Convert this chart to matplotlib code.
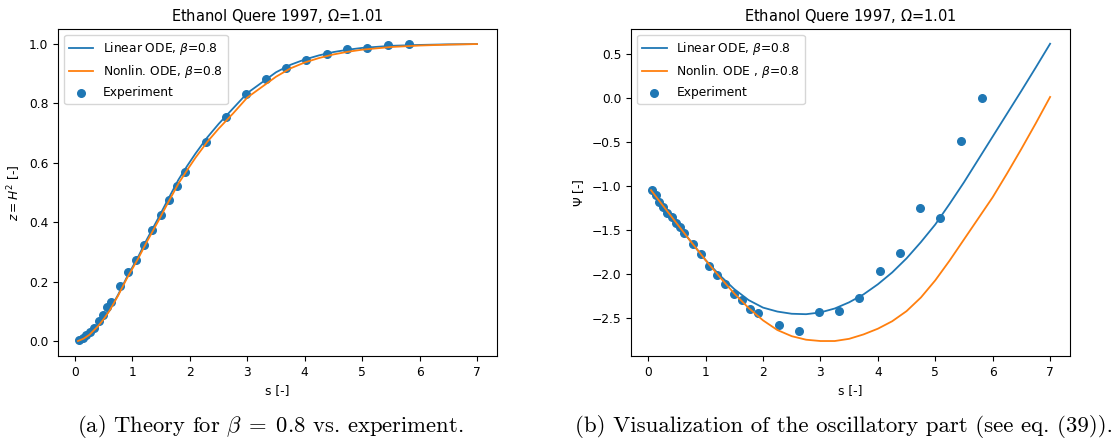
import numpy as np
import matplotlib
matplotlib.use("Agg")
import matplotlib.pyplot as plt

s_exp = [0.06, 0.13, 0.19, 0.26, 0.33, 0.41, 0.48, 0.55, 0.62, 0.78, 0.92, 1.06,
         1.20, 1.34, 1.49, 1.63, 1.78, 1.92, 2.28, 2.63, 2.98, 3.33, 3.68, 4.03,
         4.38, 4.74, 5.09, 5.45, 5.81]
z_exp = [0.002, 0.009, 0.019, 0.031, 0.045, 0.066, 0.087, 0.113, 0.130, 0.185,
         0.231, 0.274, 0.324, 0.374, 0.425, 0.476, 0.521, 0.569, 0.671, 0.755,
         0.833, 0.881, 0.918, 0.947, 0.967, 0.983, 0.986, 0.997, 1.001]
psi_exp = [-1.053, -1.11, -1.18, -1.24, -1.31, -1.36, -1.42, -1.47, -1.54, -1.66,
           -1.77, -1.91, -2.02, -2.12, -2.23, -2.30, -2.40, -2.45, -2.58, -2.65,
           -2.44, -2.42, -2.28, -1.97, -1.76, -1.25, -1.37, -0.49, 0.0]

# theory curves, left panel
s_z = [0.05, 0.15, 0.25, 0.4, 0.5, 0.6, 0.75, 0.9, 1.1, 1.25, 1.45, 1.6, 1.8, 1.95,
       2.1, 2.3, 2.5, 2.75, 3.0, 3.25, 3.5, 3.75, 4.0, 4.25, 4.5, 4.75, 5.0, 5.5,
       6.0, 6.5, 7.0]
z_lin = [0.0, 0.008, 0.022, 0.051, 0.075, 0.104, 0.156, 0.214, 0.284, 0.342, 0.414,
         0.470, 0.543, 0.589, 0.632, 0.685, 0.731, 0.783, 0.835, 0.870, 0.905, 0.930,
         0.948, 0.962, 0.973, 0.981, 0.987, 0.994, 0.997, 0.999, 1.0]
z_nonlin = [0.0, 0.008, 0.021, 0.050, 0.074, 0.102, 0.153, 0.210, 0.278, 0.334,
            0.404, 0.459, 0.530, 0.575, 0.618, 0.670, 0.715, 0.766, 0.820, 0.855,
            0.890, 0.918, 0.938, 0.953, 0.965, 0.974, 0.981, 0.990, 0.995, 0.998, 1.0]

# theory curves, right panel
s_psi = [0.05, 0.25, 0.5, 0.75, 1.0, 1.25, 1.5, 1.75, 2.0, 2.25, 2.5, 2.75, 3.0,
         3.25, 3.5, 3.75, 4.0, 4.25, 4.5, 4.75, 5.0, 5.25, 5.5, 5.75, 6.0, 6.25,
         6.5, 6.75, 7.0]
psi_lin = [-1.05, -1.22, -1.43, -1.64, -1.845, -2.02, -2.175, -2.30, -2.385, -2.43,
           -2.455, -2.46, -2.44, -2.395, -2.325, -2.235, -2.12, -1.985, -1.825, -1.64,
           -1.44, -1.205, -0.96, -0.70, -0.44, -0.18, 0.08, 0.345, 0.615]
psi_nonlin = [-1.05, -1.22, -1.43, -1.64, -1.845, -2.04, -2.225, -2.39, -2.53, -2.64,
              -2.71, -2.75, -2.765, -2.765, -2.74, -2.69, -2.625, -2.54, -2.425, -2.27,
              -2.075, -1.85, -1.61, -1.37, -1.13, -0.86, -0.58, -0.29, 0.01]

title = r"Ethanol Quere 1997, $\Omega$=1.01"
fs = 8.8

fig = plt.figure(figsize=(11.15, 4.41), dpi=100)
ax1 = fig.add_axes([0.052, 0.193, 0.3937, 0.7415])
ax2 = fig.add_axes([0.566, 0.193, 0.3937, 0.7415])

# left: z = H^2
pts1 = ax1.scatter(s_exp, z_exp, s=30, color="C0", label="Experiment")
l1, = ax1.plot(s_z, z_lin, color="C0", lw=1.3, label=r"Linear ODE, $\beta$=0.8")
l2, = ax1.plot(s_z, z_nonlin, color="C1", lw=1.3, label=r"Nonlin. ODE, $\beta$=0.8")
ax1.set_title(title, fontsize=10.5)
ax1.set_xlabel("s [-]", fontsize=fs)
ax1.set_ylabel(r"$z = H^2$ [-]", fontsize=fs)
ax1.legend(handles=[l1, l2, pts1], loc="upper left", fontsize=fs)

# right: oscillatory part
pts2 = ax2.scatter(s_exp, psi_exp, s=30, color="C0", label="Experiment")
m1, = ax2.plot(s_psi, psi_lin, color="C0", lw=1.3, label=r"Linear ODE, $\beta$=0.8")
m2, = ax2.plot(s_psi, psi_nonlin, color="C1", lw=1.3, label=r"Nonlin. ODE , $\beta$=0.8")
ax2.set_title(title, fontsize=10.5)
ax2.set_xlabel("s [-]", fontsize=fs)
ax2.set_ylabel(r"$\Psi$ [-]", fontsize=fs)
ax2.legend(handles=[m1, m2, pts2], loc="upper left", fontsize=fs)

for ax in (ax1, ax2):
    ax.tick_params(labelsize=fs)

# sub-captions
fig.text(0.242, 0.02, r"(a) Theory for $\beta \;=\; 0.8$ vs. experiment.",
         ha="center", family="cmr10", math_fontfamily="cm", fontsize=16.3)
fig.text(0.757, 0.02, "(b) Visualization of the oscillatory part (see eq. (39)).",
         ha="center", family="cmr10", math_fontfamily="cm", fontsize=16.5)

fig.savefig("out.png", dpi=100)
